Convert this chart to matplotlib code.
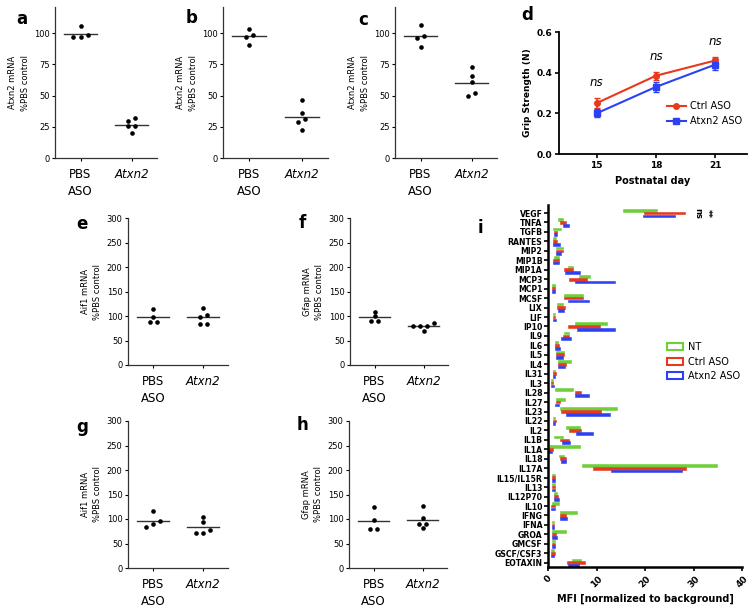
import numpy as np
import matplotlib
matplotlib.use("Agg")
import matplotlib.pyplot as plt
from matplotlib.patches import Patch
from matplotlib.lines import Line2D

W, H = 754, 611

# ---- data: knockdown dot plots (a-c, e-h) ----
groups = ["PBS\nASO", "Atxn2"]
a_pbs = [105.6, 96.8, 97.3, 98.9]
a_atxn2 = [32.3, 29.6, 25.3, 25.3, 20.0]
b_pbs = [103.5, 98.9, 97.3, 90.7]
b_atxn2 = [46.7, 36.0, 31.5, 28.8, 22.7]
c_pbs = [106.6, 97.9, 96.0, 89.2]
c_atxn2 = [73.3, 65.9, 61.1, 52.1, 49.5]
e_pbs = [114.5, 97.5, 88.6, 88.6]
e_atxn2 = [117.2, 102.3, 98.9, 83.8, 83.8]
f_pbs = [108.6, 99.8, 90.3, 90.3]
f_atxn2 = [79.4, 84.9, 79.4, 79.4, 69.9]
g_pbs = [116.5, 96.8, 89.4, 84.6]
g_atxn2 = [103.6, 93.4, 77.9, 71.1, 71.1]
h_pbs = [123.9, 98.2, 79.2, 79.2]
h_atxn2 = [126.6, 101.6, 90.0, 90.0, 81.2]

# ---- data: grip strength (d) ----
days = [15, 18, 21]
ctrl_mean = [0.25, 0.385, 0.46]
ctrl_err = [0.025, 0.02, 0.015]
atxn_mean = [0.20, 0.33, 0.44]
atxn_err = [0.02, 0.025, 0.025]

# ---- data: cytokines (i) ----
cytokines = ["VEGF", "TNFA", "TGFB", "RANTES", "MIP2", "MIP1B", "MIP1A", "MCP3",
             "MCP1", "MCSF", "LIX", "LIF", "IP10", "IL9", "IL6", "IL5", "IL4",
             "IL31", "IL3", "IL28", "IL27", "IL23", "IL22", "IL2", "IL1B", "IL1A",
             "IL18", "IL17A", "IL15/IL15R", "IL13", "IL12P70", "IL10", "IFNG",
             "IFNA", "GROA", "GMCSF", "GSCF/CSF3", "EOTAXIN"]
nt_lo = [15.5, 2.1, 1.1, 1.0, 1.6, 1.2, 4.2, 6.3, 0.8, 3.3, 1.9, 1.1, 5.6, 3.2,
         1.4, 1.6, 2.1, 1.0, 0.6, 1.4, 1.6, 2.5, 1.0, 3.8, 1.2, 0.2, 2.3, 7.1,
         0.8, 0.8, 1.2, 0.8, 2.5, 0.8, 0.8, 0.8, 0.7, 4.9]
nt_hi = [22.5, 3.0, 2.6, 1.6, 3.0, 2.3, 5.2, 8.7, 1.4, 7.3, 3.0, 1.5, 12.1, 4.4,
         2.1, 3.4, 4.7, 1.5, 1.1, 5.1, 3.6, 14.2, 1.4, 6.6, 3.0, 6.6, 3.2, 34.9,
         1.4, 1.5, 1.9, 2.3, 5.9, 1.2, 3.7, 1.4, 1.2, 6.9]
ctrl_lo = [19.7, 2.5, 1.2, 1.0, 1.6, 1.1, 3.2, 4.4, 0.8, 3.3, 1.8, 1.1, 4.2, 3.1,
           1.4, 1.6, 2.0, 1.0, 0.6, 5.6, 1.6, 2.6, 1.1, 4.4, 2.5, 0.1, 2.5, 9.2,
           0.8, 0.8, 1.2, 0.7, 2.5, 0.8, 0.8, 0.8, 0.7, 4.0]
ctrl_hi = [28.2, 3.8, 1.8, 1.9, 3.0, 2.3, 5.2, 8.0, 1.5, 7.3, 3.5, 1.5, 10.7, 4.4,
           2.3, 3.2, 3.7, 1.6, 1.1, 6.9, 2.5, 10.9, 1.6, 6.9, 4.4, 1.1, 3.7, 28.4,
           1.5, 1.5, 2.1, 1.4, 3.7, 1.2, 1.6, 1.5, 1.4, 7.6]
atxn_lo = [19.5, 3.0, 1.2, 1.1, 1.6, 1.1, 3.5, 5.6, 0.8, 4.2, 2.1, 1.1, 6.0, 2.6,
           1.4, 1.6, 2.1, 1.0, 0.6, 5.6, 1.5, 3.8, 1.1, 5.8, 2.8, 0.1, 2.6, 13.0,
           0.8, 0.8, 1.2, 0.7, 2.5, 0.8, 0.8, 0.8, 0.7, 4.2]
atxn_hi = [26.2, 4.3, 1.8, 2.5, 2.6, 2.2, 6.6, 13.8, 1.4, 8.5, 3.2, 1.7, 13.8, 4.7,
           2.5, 3.0, 3.5, 1.5, 1.2, 8.5, 2.3, 12.8, 1.5, 9.2, 4.5, 0.8, 3.8, 27.6,
           1.4, 1.5, 2.2, 1.4, 4.0, 1.2, 1.8, 1.5, 1.2, 6.3]

RED = "#e8391d"
BLUE = "#2c42f2"
GREEN = "#6fcf3a"


def px_axes(left, top, right, bottom):
    return fig.add_axes([left / W, 1 - bottom / H, (right - left) / W, (bottom - top) / H])


def swarm(vals, thr, step):
    # spread points that sit close together side by side
    order = np.argsort(vals)
    v = np.asarray(vals)[order]
    offs = np.zeros(len(v))
    start = 0
    for k in range(1, len(v) + 1):
        if k == len(v) or v[k] - v[k - 1] > thr:
            n = k - start
            offs[start:k] = (np.arange(n) - (n - 1) / 2) * step
            start = k
    out = np.zeros(len(v))
    out[order] = offs
    return out


def dot_panel(ax, pbs, atxn, ylabel, ymax, ticks):
    for i, vals in enumerate([pbs, atxn]):
        xo = swarm(vals, 0.025 * ymax, 0.14)
        ax.scatter(i + xo, vals, s=11, color="black", zorder=3, linewidths=0)
        m = np.mean(vals)
        ax.plot([i - 0.32, i + 0.32], [m, m], color="#333333", lw=1.0)
    ax.set_xlim(-0.5, 1.5)
    ax.set_ylim(0, ymax)
    ax.set_yticks(ticks)
    ax.set_xticks([0, 1])
    ax.set_xticklabels(groups, fontsize=8.5, linespacing=1.4)
    ax.get_xticklabels()[1].set_style("italic")
    ax.tick_params(axis="y", labelsize=6, length=2.5, width=0.8, pad=1.5)
    ax.tick_params(axis="x", length=2.5, width=0.8, pad=5)
    for s in ["top", "right"]:
        ax.spines[s].set_visible(False)
    for s in ["left", "bottom"]:
        ax.spines[s].set_linewidth(0.9)
        ax.spines[s].set_color("#333333")
    ax.set_ylabel(ylabel, fontsize=6, labelpad=3, linespacing=1.5)


fig = plt.figure(figsize=(W / 100, H / 100), dpi=100)

lbl_kw = dict(fontsize=12, fontweight="bold", ha="center", va="center")

ax = px_axes(55, 7, 157, 158)
dot_panel(ax, a_pbs, a_atxn2, "Atxn2 mRNA\n%PBS control", 121, [0, 25, 50, 75, 100])
ax = px_axes(223, 7, 328, 158)
dot_panel(ax, b_pbs, b_atxn2, "Atxn2 mRNA\n%PBS control", 121, [0, 25, 50, 75, 100])
ax = px_axes(395, 7, 497, 158)
dot_panel(ax, c_pbs, c_atxn2, "Atxn2 mRNA\n%PBS control", 121, [0, 25, 50, 75, 100])

ax = px_axes(128, 218, 228, 365)
dot_panel(ax, e_pbs, e_atxn2, "Aif1 mRNA\n%PBS control", 300, range(0, 301, 50))
ax = px_axes(350, 218, 448, 365)
dot_panel(ax, f_pbs, f_atxn2, "Gfap mRNA\n%PBS control", 300, range(0, 301, 50))
ax = px_axes(128, 421, 228, 568)
dot_panel(ax, g_pbs, g_atxn2, "Aif1 mRNA\n%PBS control", 300, range(0, 301, 50))
ax = px_axes(349, 421, 447, 568)
dot_panel(ax, h_pbs, h_atxn2, "Gfap mRNA\n%PBS control", 300, range(0, 301, 50))

# ---- panel d ----
ax = px_axes(559, 32, 747, 154)
ax.errorbar(days, ctrl_mean, yerr=ctrl_err, color=RED, marker="o", ms=4,
            lw=1.5, capsize=2.5, elinewidth=1.2)
ax.errorbar(days, atxn_mean, yerr=atxn_err, color=BLUE, marker="s", ms=4,
            lw=1.5, capsize=2.5, elinewidth=1.2)
ax.set_xlim(13.1, 22.6)
ax.set_ylim(0, 0.6)
ax.set_xticks(days)
ax.set_yticks([0.0, 0.2, 0.4, 0.6])
ax.set_yticklabels(["0.0", "0.2", "0.4", "0.6"])
for s in ["top", "right"]:
    ax.spines[s].set_visible(False)
for s in ["left", "bottom"]:
    ax.spines[s].set_linewidth(1.3)
ax.tick_params(labelsize=6.5, length=3, width=1.2, pad=2)
for t in ax.get_xticklabels() + ax.get_yticklabels():
    t.set_fontweight("bold")
ax.set_xlabel("Postnatal day", fontsize=7, fontweight="bold", labelpad=4)
ax.set_ylabel("Grip Strength (N)", fontsize=6.5, fontweight="bold", labelpad=3)
for d, m, e in zip(days, ctrl_mean, ctrl_err):
    ax.text(d, m + e + 0.045, "ns", fontsize=8.5, style="italic", ha="center", va="bottom")
d_handles = [Line2D([], [], color=RED, marker="o", ms=4, lw=1.5, label="Ctrl ASO"),
             Line2D([], [], color=BLUE, marker="s", ms=4, lw=1.5, label="Atxn2 ASO")]
ax.legend(handles=d_handles, loc="center right", bbox_to_anchor=(1.02, 0.33), fontsize=7,
          frameon=False, handlelength=2.0, handletextpad=0.4, labelspacing=0.5)

# ---- panel i ----
ax = px_axes(548, 205, 742, 567)
yy = np.arange(len(cytokines))
bh = 0.28
for lo, hi, off, col in [(nt_lo, nt_hi, -0.3, GREEN), (ctrl_lo, ctrl_hi, 0.0, RED),
                         (atxn_lo, atxn_hi, 0.3, BLUE)]:
    lo = np.array(lo)
    hi = np.array(hi)
    ax.barh(yy + off, hi - lo, left=lo, height=bh, color=col, edgecolor=col, lw=0.4)
ax.set_ylim(37.45, -0.85)
ax.set_xlim(0, 40)
ax.set_yticks(yy)
ax.set_yticklabels(cytokines, fontsize=5.6, fontweight="bold")
ax.set_xticks([0, 10, 20, 30, 40])
ax.set_xticklabels(["0", "10", "20", "30", "40"], rotation=45, fontsize=6.5,
                   fontweight="bold", ha="center")
ax.tick_params(axis="y", length=3, width=1.2, pad=1)
ax.tick_params(axis="x", length=3, width=1.2, pad=2)
for s in ["top", "right"]:
    ax.spines[s].set_visible(False)
for s in ["left", "bottom"]:
    ax.spines[s].set_linewidth(1.8)
ax.set_xlabel("MFI [normalized to background]", fontsize=7, fontweight="bold", labelpad=3)
ax.text(30.8, 0, "ns", rotation=270, fontsize=6, fontweight="bold", ha="center", va="center")
ax.text(32.9, 0, "**", rotation=270, fontsize=6, fontweight="bold", ha="center", va="center")
handles = [Patch(facecolor="white", edgecolor=GREEN, lw=1.5, label="NT"),
           Patch(facecolor="white", edgecolor=RED, lw=1.5, label="Ctrl ASO"),
           Patch(facecolor="white", edgecolor=BLUE, lw=1.5, label="Atxn2 ASO")]
ax.legend(handles=handles, loc="upper left", bbox_to_anchor=(0.57, 0.645), fontsize=7,
          frameon=False, handlelength=1.6, handleheight=0.7, handletextpad=0.5,
          labelspacing=0.45)

# panel letters
for ch, x, y in [("a", 22, 19), ("b", 192, 18), ("c", 363, 20), ("d", 527, 15),
                 ("e", 82, 224), ("f", 302, 223), ("g", 82, 427), ("h", 302, 425),
                 ("i", 480, 228)]:
    fig.text(x / W, 1 - y / H, ch, **lbl_kw)

fig.savefig("out.png", dpi=100)
